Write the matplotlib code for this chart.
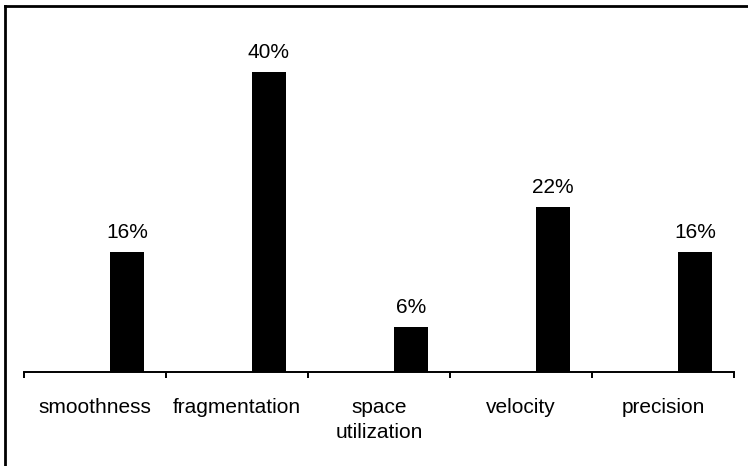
import matplotlib
matplotlib.use("Agg")
import matplotlib.pyplot as plt
from matplotlib.lines import Line2D

categories = ["smoothness", "fragmentation", "space\nutilization", "velocity", "precision"]
values = [16, 40, 6, 22, 16]
value_labels = ["16%", "40%", "6%", "22%", "16%"]

plt.rcParams['font.family'] = ['Liberation Sans', 'DejaVu Sans']

W, H = 748, 466
fig = plt.figure(figsize=(W / 100, H / 100), dpi=100)
ax = fig.add_axes([24 / W, (H - 372) / H, (734 - 24) / W, (372 - 34.5) / H])

x = list(range(len(categories)))
offset = 0.225
bars = ax.bar([i + offset for i in x], values, width=0.24, color='black', edgecolor='none')
for b, lab in zip(bars, value_labels):
    ax.annotate(lab, (b.get_x() + b.get_width() / 2, b.get_height()),
                xytext=(0, 13.7), textcoords='offset points',
                ha='center', va='center', fontsize=15)

ax.set_xlim(-0.5, len(categories) - 0.5)
ax.set_ylim(0, 45)
for s in ['top', 'right', 'left']:
    ax.spines[s].set_visible(False)
ax.spines['bottom'].set_linewidth(1.4)
ax.set_yticks([])

ax.set_xticks([i - 0.5 for i in range(len(categories) + 1)])
ax.set_xticks(x, minor=True)
ax.set_xticklabels([])
ax.set_xticklabels(categories, minor=True, fontsize=15, linespacing=1.45)
ax.tick_params(axis='x', which='major', length=4.5, width=1.4, direction='out')
ax.tick_params(axis='x', which='minor', length=0, pad=18.5)

# outer border (top and left visible)
fig.add_artist(Line2D([4.5 / W, 1], [1 - 6 / H, 1 - 6 / H], color='black', lw=2, transform=fig.transFigure))
fig.add_artist(Line2D([4.5 / W, 4.5 / W], [0, 1 - 6 / H], color='black', lw=2, transform=fig.transFigure))

fig.savefig("out.png", dpi=100)
